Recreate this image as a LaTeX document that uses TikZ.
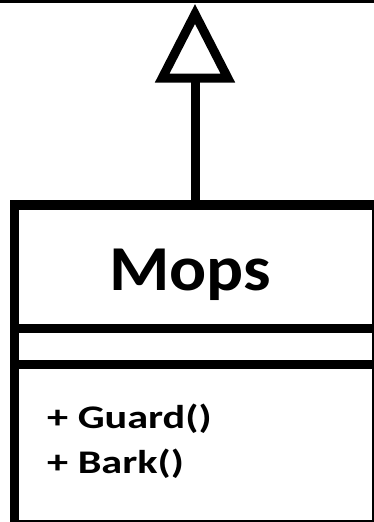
\documentclass[tikz,border=0pt]{standalone}
\usepackage{fontspec}
\setmainfont{Carlito}
\begin{document}
\begin{tikzpicture}[x=1pt,y=-1pt,
  heavy/.style={line width=9.5pt,line join=miter},
  hair/.style={line width=2pt},
  titletext/.style={font=\bfseries\fontsize{64}{64}\selectfont,inner sep=0pt},
  optext/.style={font=\bfseries\fontsize{33}{33}\selectfont,inner sep=0pt,anchor=base west}]
\useasboundingbox[fill=white] (0,0) rectangle (374,522);
% parent class edge (cropped)
\draw[line width=3pt] (0,1.5) -- (374,1.5);
\coordinate (parent) at (195,3);
% class box
\coordinate (boxtop) at (195,205);
\draw[heavy] (14.5,522) -- (14.5,205) -- (374,205);
\draw[line width=9pt] (10,328.5) -- (374,328.5);
\draw[line width=9pt] (10,364) -- (374,364);
\draw[hair] (373,205) -- (373,522);
\draw[hair] (14.5,521) -- (374,521);
% generalization arrow
\coordinate (tribase) at (195,78);
\draw[line width=9pt] (boxtop) -- (tribase);
\draw[line width=9pt,line join=miter,miter limit=20] (195,14) -- (162.2,78) -- (227.8,78) -- cycle;
% texts
\node[titletext,anchor=base] (title) at (190,290) {\scalebox{1.08}[1]{Mops}};
\node[optext] (op1) at (47,428) {\scalebox{1.28}[1]{+ Guard()}};
\node[optext] (op2) at (47,473) {\scalebox{1.28}[1]{+ Bark()}};
\end{tikzpicture}
\end{document}
